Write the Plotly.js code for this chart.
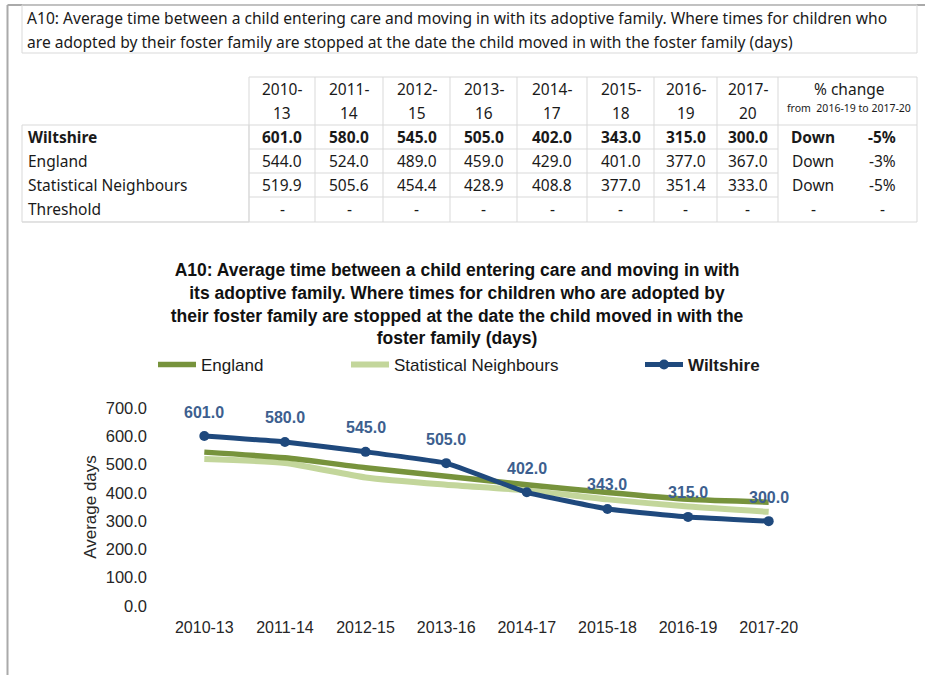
<!DOCTYPE html>
<html>
<head>
<meta charset="utf-8">
<script src="https://cdn.plot.ly/plotly-3.0.1.min.js"></script>
<style>
html,body{margin:0;padding:0;background:#fff;}
#chart{width:925px;height:675px;}
</style>
</head>
<body>
<div id="chart"></div>
<script>
// ---------- data ----------
const categories = ['2010-13','2011-14','2012-15','2013-16','2014-17','2015-18','2016-19','2017-20'];
const headerTop = ['2010-','2011-','2012-','2013-','2014-','2015-','2016-','2017-'];
const headerBottom = ['13','14','15','16','17','18','19','20'];
const wiltshire = [601.0, 580.0, 545.0, 505.0, 402.0, 343.0, 315.0, 300.0];
const england = [544.0, 524.0, 489.0, 459.0, 429.0, 401.0, 377.0, 367.0];
const statNeighbours = [519.9, 505.6, 454.4, 428.9, 408.8, 377.0, 351.4, 333.0];
const threshold = ['-','-','-','-','-','-','-','-'];
const rowLabels = ['Wiltshire','England','Statistical Neighbours','Threshold'];
const changeDir = ['Down','Down','Down','-'];
const changePct = ['-5%','-3%','-5%','-'];
const boxText = ['A10: Average time between a child entering care and moving in with its adoptive family. Where times for children who',
                 'are adopted by their foster family are stopped at the date the child moved in with the foster family (days)'];
const chartTitle = 'A10: Average time between a child entering care and moving in with<br>its adoptive family. Where times for children who are adopted by<br>their foster family are stopped at the date the child moved in with the<br>foster family (days)';

// ---------- helpers ----------
const W = 925, H = 675;
const px = x => x / W;
const py = y => 1 - y / H;
const tableFont = 'Noto Sans, Open Sans, sans-serif';
const chartFont = 'Liberation Sans, Arial, sans-serif';
const borderCol = '#d9d9d9';

const shapes = [];
const annotations = [];
function line(x0, y0, x1, y1, color, width) {
  shapes.push({type:'line', xref:'paper', yref:'paper', x0:px(x0), y0:py(y0), x1:px(x1), y1:py(y1),
               line:{color:color, width:width}});
}
function text(t, x, y, opts) {
  opts = opts || {};
  annotations.push({xref:'paper', yref:'paper', x:px(x), y:py(y), text:t, showarrow:false,
    xanchor:opts.xanchor || 'center', yanchor:'middle',
    font:{family:opts.family || tableFont, size:opts.size || 15.5, color:opts.color || '#1a1a1a'}});
}

// outer frame
line(7.5, 5, 925, 5, '#aaaaaa', 2);
line(7.5, 5, 7.5, 675, '#aaaaaa', 2);

// text box
shapes.push({type:'rect', xref:'paper', yref:'paper', x0:px(22), y0:py(53), x1:px(917), y1:py(5),
             line:{color:borderCol, width:1}});
text(boxText[0], 25, 18, {xanchor:'left', size:15.6});
text(boxText[1], 25, 42, {xanchor:'left', size:15.6});

// table geometry
const colEdges = [249, 315, 383, 450, 517, 587, 654, 717, 778];
const tableRight = 917;
const tableTop = 77;

// label column box
shapes.push({type:'rect', xref:'paper', yref:'paper', x0:px(22), y0:py(222), x1:px(249), y1:py(125),
             line:{color:borderCol, width:1}});
// header borders
line(249, tableTop, tableRight, tableTop, borderCol, 1);
line(249, 125, tableRight, 125, borderCol, 1);
line(22, 222, tableRight, 222, borderCol, 1);
colEdges.forEach(x => line(x, tableTop, x, 222, borderCol, 1));
line(tableRight, tableTop, tableRight, 222, borderCol, 1);
// row lines in numeric columns
[149, 173, 197].forEach(y => line(249, y, 778, y, borderCol, 1));

// header text
categories.forEach((c, i) => {
  const cx = (colEdges[i] + colEdges[i + 1]) / 2;
  text(headerTop[i], cx, 89);
  text(headerBottom[i], cx, 113);
});
text('% change', 849, 89);
text('from  2016-19 to 2017-20', 849, 108, {size:10.5});

// row data
const rows = [wiltshire.map(v => v.toFixed(1)), england.map(v => v.toFixed(1)),
              statNeighbours.map(v => v.toFixed(1)), threshold];
const rowY = [137, 161, 185, 209];
rows.forEach((r, ri) => {
  const bold = ri === 0;
  const wrap = t => bold ? '<b>' + t + '</b>' : t;
  text(wrap(rowLabels[ri]), 26, rowY[ri], {xanchor:'left'});
  r.forEach((v, i) => {
    const cx = (colEdges[i] + colEdges[i + 1]) / 2;
    text(wrap(v), cx, rowY[ri]);
  });
  text(wrap(changeDir[ri]), 813, rowY[ri]);
  text(wrap(changePct[ri]), 882, rowY[ri]);
});

// data labels for Wiltshire
categories.forEach((c, i) => {
  annotations.push({xref:'x', yref:'y', x:c, y:wiltshire[i], text:'<b>' + wiltshire[i].toFixed(1) + '</b>',
    showarrow:false, yshift:24, font:{family:chartFont, size:16, color:'#3d5f8f'}});
});

// ---------- traces ----------
const traces = [
  {x:categories, y:statNeighbours, type:'scatter', mode:'lines', name:'Statistical Neighbours',
   line:{color:'#c3d69b', width:6, shape:'spline', smoothing:0.6}, legend:'legend2', hoverinfo:'skip'},
  {x:categories, y:england, type:'scatter', mode:'lines', name:'England',
   line:{color:'#77933c', width:5.5, shape:'spline', smoothing:0.6}, legend:'legend', hoverinfo:'skip'},
  {x:categories, y:wiltshire, type:'scatter', mode:'lines+markers', name:'Wiltshire',
   line:{color:'#1f497d', width:5, shape:'spline', smoothing:0.3},
   marker:{color:'#1f497d', size:10}, legend:'legend3', hoverinfo:'skip'}
];

const legBase = {orientation:'h', yanchor:'middle', y:py(365), xanchor:'left', borderwidth:0,
                 bgcolor:'rgba(0,0,0,0)', itemwidth:38};

const layout = {
  width:W, height:H,
  margin:{l:0, r:0, t:0, b:0, pad:0},
  paper_bgcolor:'#ffffff', plot_bgcolor:'#ffffff',
  font:{family:chartFont, color:'#1a1a1a'},
  title:{text:'<b>' + chartTitle + '</b>', x:px(457), xanchor:'center', xref:'paper',
         y:py(276), yanchor:'top', yref:'paper', font:{family:chartFont, size:17.5, color:'#111111'}},
  xaxis:{domain:[px(164), px(809)], type:'category', range:[-0.5, 7.5], showgrid:false, zeroline:false,
         showline:false, ticks:'', ticklabelstandoff:10,
         tickfont:{family:chartFont, size:16, color:'#262626'}},
  yaxis:{domain:[py(606), py(408)], range:[0, 700], dtick:100, tickformat:'.1f', showgrid:false,
         zeroline:false, showline:false, ticks:'', ticklabelstandoff:16,
         tickfont:{family:chartFont, size:16.5, color:'#262626'},
         title:{text:'Average days', standoff:4, font:{family:chartFont, size:17, color:'#262626'}}},
  showlegend:true,
  legend:Object.assign({}, legBase, {x:px(153), font:{family:chartFont, size:17, color:'#1a1a1a'}}),
  legend2:Object.assign({}, legBase, {x:px(346), font:{family:chartFont, size:17, color:'#1a1a1a'}}),
  legend3:Object.assign({}, legBase, {x:px(640), font:{family:chartFont, size:17, color:'#1a1a1a', weight:'bold'}}),
  shapes:shapes,
  annotations:annotations
};

Plotly.newPlot('chart', traces, layout, {displayModeBar:false, staticPlot:true});
</script>
</body>
</html>
